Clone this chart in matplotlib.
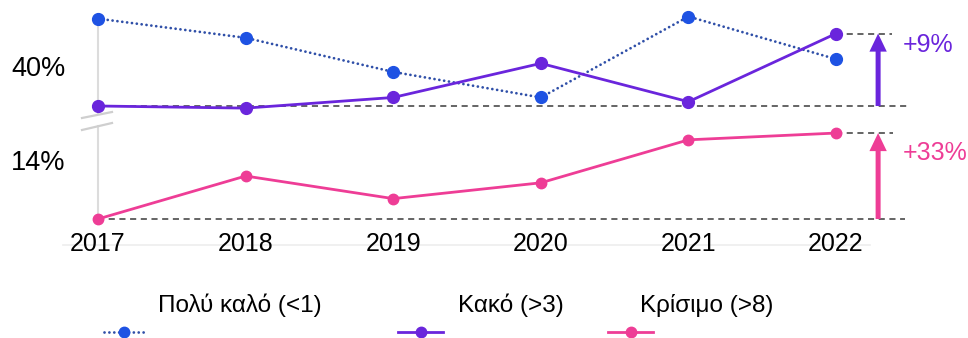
import matplotlib
matplotlib.use("Agg")
import matplotlib.pyplot as plt
from matplotlib.lines import Line2D

plt.rcParams["font.family"] = ["Liberation Sans", "DejaVu Sans"]

# ---- data -------------------------------------------------------------
years = [2017, 2018, 2019, 2020, 2021, 2022]
very_good = [42.2, 41.3, 39.7, 38.5, 42.3, 40.3]   # Πολύ καλό (<1)
bad = [38.1, 38.0, 38.5, 40.1, 38.3, 41.5]         # Κακό (>3)
critical = [11.4, 13.3, 12.3, 13.0, 14.9, 15.2]    # Κρίσιμο (>8)
series_labels = ["Πολύ καλό (<1)", "Κακό (>3)", "Κρίσιμο (>8)"]
top_ticks = [40]
top_tick_labels = ["40%"]
bottom_ticks = [14]
bottom_tick_labels = ["14%"]

# ---- style ------------------------------------------------------------
BLUE_LINE = "#2f4fa8"
BLUE_DOT = "#1e52e3"
PURPLE = "#6a25dc"
PINK = "#ee3d96"
DASH = "#3a3a3a"
AXIS_GREY = "#dcdcdc"
DOTTED = (0, (0.01, 1.75))

W, H = 968, 338
fig = plt.figure(figsize=(W / 100, H / 100), dpi=100)


def fx(px):
    return px / W


def fy(py):
    return 1 - py / H


ax_top = fig.add_axes([0, fy(116), 1, (116 - 8) / H])
ax_bot = fig.add_axes([0, fy(245), 1, (245 - 124) / H])

xlim = (2016.336, 2022.894)
for ax in (ax_top, ax_bot):
    ax.set_xlim(*xlim)
    ax.set_facecolor("none")
    ax.spines["top"].set_visible(False)
    ax.spines["right"].set_visible(False)
    ax.spines["left"].set_position(("data", years[0]))
    ax.spines["left"].set_color(AXIS_GREY)
    ax.spines["left"].set_linewidth(1.5)

ax_top.set_ylim(37.63, 42.70)
ax_bot.set_ylim(10.25, 15.60)

# vertical axis pieces either side of the break
ax_top.spines["left"].set_bounds(37.77, very_good[0])
ax_bot.spines["left"].set_bounds(11.36, 15.51)
ax_top.spines["bottom"].set_visible(False)
ax_bot.spines["bottom"].set_color("#ededed")
ax_bot.spines["bottom"].set_linewidth(1.2)
ax_bot.spines["bottom"].set_zorder(0)
ax_bot.spines["bottom"].set_bounds(2016.76, 2022.23)

# ticks
ax_top.set_xticks([])
ax_top.set_yticks(top_ticks)
ax_top.set_yticklabels(top_tick_labels)
ax_top.tick_params(axis="y", length=0, pad=23.5, labelsize=19.5)
ax_bot.set_yticks(bottom_ticks)
ax_bot.set_yticklabels(bottom_tick_labels)
ax_bot.tick_params(axis="y", length=0, pad=23.5, labelsize=19.5)
ax_bot.set_xticks(years)
ax_bot.set_xticklabels([str(y) for y in years])
ax_bot.tick_params(axis="x", length=0, pad=-9.4, labelsize=18)

# ---- series -----------------------------------------------------------
ax_top.plot(years, very_good, color=BLUE_LINE, lw=2, ls=DOTTED,
            dash_capstyle="round", marker="o", ms=8.5, mfc=BLUE_DOT,
            mec=BLUE_DOT, zorder=3)
ax_top.plot(years, bad, color=PURPLE, lw=2, marker="o", ms=8.5, zorder=4)
ax_bot.plot(years, critical, color=PINK, lw=2, marker="o", ms=7.5, zorder=4)

# ---- change from first to last year -----------------------------------
arrow_x = 2022.285


def change_marker(ax, values, color, base_end, top_end, text_dy):
    first, last = values[0], values[-1]
    ax.plot([years[0], base_end], [first, first], color=DASH, lw=1.1,
            ls=(0, (4, 3)), zorder=2)
    ax.plot([years[-1], top_end], [last, last], color=DASH, lw=1.1,
            ls=(0, (4, 3)), zorder=2)
    ax.annotate("", xy=(arrow_x, last), xytext=(arrow_x, first),
                arrowprops=dict(width=3.6, headwidth=12.5, headlength=13,
                                shrink=0, color=color, lw=0),
                annotation_clip=False)
    pct = round((last / first - 1) * 100)
    ax.annotate(f"+{pct}%", xy=(2022.45, last), xytext=(0, text_dy),
                textcoords="offset points", color=color, fontsize=18,
                ha="left", va="center", annotation_clip=False)


change_marker(ax_top, bad, PURPLE, 2022.488, 2022.38, -8)
change_marker(ax_bot, critical, PINK, 2022.467, 2022.386, -14.5)

# ---- axis break marks -------------------------------------------------
for y0, y1 in ((118, 112), (130, 123)):
    fig.add_artist(Line2D([fx(82), fx(112)], [fy(y0), fy(y1)],
                          color="#cfcfcf", lw=1.6))

# ---- legend -----------------------------------------------------------
legend_y = 332
handles = [
    dict(x0=104, x1=144, color=BLUE_LINE, mfc=BLUE_DOT, ls=DOTTED, lw=2),
    dict(x0=398, x1=443, color=PURPLE, mfc=PURPLE, ls="-", lw=2),
    dict(x0=608, x1=653, color=PINK, mfc=PINK, ls="-", lw=2),
]
text_x = [158, 458, 640]
for h, label, tx in zip(handles, series_labels, text_x):
    xc = (h["x0"] + h["x1"]) / 2
    fig.add_artist(Line2D([fx(h["x0"]), fx(xc), fx(h["x1"])],
                          [fy(legend_y)] * 3, color=h["color"], lw=h["lw"],
                          ls=h["ls"], dash_capstyle="round", marker="o",
                          ms=7.5, mfc=h["mfc"], mec=h["mfc"], markevery=[1]))
    fig.text(fx(tx), fy(312), label, fontsize=17.5, va="baseline", ha="left")

fig.savefig("out.png", dpi=100)
